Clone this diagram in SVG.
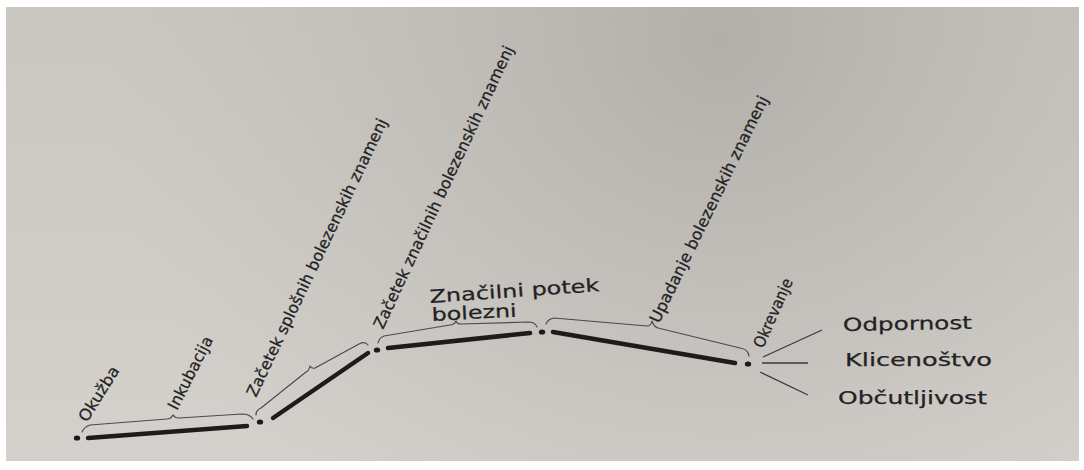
<svg xmlns="http://www.w3.org/2000/svg" width="1084" height="470" viewBox="0 0 1084 470">
<defs>
<linearGradient id="bg" x1="0" y1="0" x2="0" y2="1">
<stop offset="0" stop-color="#cac6c2"/>
<stop offset="1" stop-color="#d4d1cd"/>
</linearGradient>
<radialGradient id="shade" cx="720" cy="40" r="620" gradientUnits="userSpaceOnUse">
<stop offset="0" stop-color="#aeaaa6" stop-opacity="0.85"/>
<stop offset="0.6" stop-color="#b8b4b0" stop-opacity="0.35"/>
<stop offset="1" stop-color="#c0bcb8" stop-opacity="0"/>
</radialGradient>
</defs>
<style>
.t{font-family:"DejaVu Sans","Liberation Sans",sans-serif;font-size:16px;fill:#222;stroke:#222;stroke-width:0.25}
.h{font-size:18px}
.bar{stroke:#1c1c1c;stroke-width:4.5;stroke-linecap:round;fill:none}
.br{stroke:#4a4a4a;stroke-width:1.2;fill:none;stroke-linejoin:round;stroke-linecap:round}
.dot{fill:#1a1a1a}
.ray{stroke:#3a3a3a;stroke-width:1.3}
</style>
<rect width="1084" height="470" fill="#ffffff"/>
<rect x="6" y="7" width="1073" height="454" fill="url(#bg)"/>
<rect x="6" y="7" width="1073" height="454" fill="url(#shade)"/>

<g id="connectors">
<line class="bar" x1="88" y1="438" x2="247" y2="426"/>
<line class="bar" x1="273" y1="418" x2="368" y2="353"/>
<line class="bar" x1="388" y1="348" x2="530" y2="333"/>
<line class="bar" x1="553" y1="332" x2="735" y2="363"/>
<path class="br" d="M82,432 Q84,427 90,425 L167,419 Q171,419 173,415 Q175,418 179,418 L242,414 Q250,414 253,419"/>
<path class="br" d="M256,415 Q256,410 261,408 L306,372 Q309,371 310,366 Q312,369 315,368 L359,344 Q365,341 368,345"/>
<path class="br" d="M378,343 Q379,338 384,336 L450,325 Q454,325 456,321 Q457,324 461,324 L528,322 Q535,322 537,327"/>
<path class="br" d="M546,324 Q548,319 554,318 L647,326 Q651,326 652,321 Q654,327 658,328 L740,348 Q748,349 749,356"/>
<line class="ray" x1="763" y1="357" x2="822" y2="330"/>
<line class="ray" x1="762" y1="363" x2="808" y2="363" stroke="#8a8a8a"/>
<line class="ray" x1="760" y1="372" x2="808" y2="395"/>
</g>

<g id="dots">
<ellipse class="dot" cx="77" cy="438" rx="3.2" ry="2.6"/>
<ellipse class="dot" cx="260" cy="422" rx="3.2" ry="2.6"/>
<ellipse class="dot" cx="377" cy="350" rx="3.2" ry="2.6"/>
<ellipse class="dot" cx="542" cy="332" rx="3.2" ry="2.6"/>
<ellipse class="dot" cx="748" cy="364" rx="3.2" ry="2.6"/>
</g>

<g id="okuzba"><text class="t" transform="translate(87,423) rotate(-58)" textLength="62" lengthAdjust="spacingAndGlyphs">Okužba</text></g>
<g id="inkubacija"><text class="t" transform="translate(177,411) rotate(-63)" textLength="80" lengthAdjust="spacingAndGlyphs">Inkubacija</text></g>
<g id="zacetek-splosnih"><text class="t" transform="translate(256,398) rotate(-64.5)" textLength="306" lengthAdjust="spacingAndGlyphs">Začetek splošnih bolezenskih znamenj</text></g>
<g id="zacetek-znacilnih"><text class="t" transform="translate(383,330) rotate(-65)" textLength="310" lengthAdjust="spacingAndGlyphs">Začetek značilnih bolezenskih znamenj</text></g>
<g id="znacilni-potek">
<text class="t h" transform="translate(430,303) rotate(-4)" textLength="170" lengthAdjust="spacingAndGlyphs">Značilni potek</text>
<text class="t h" transform="translate(432,321) rotate(-3)" textLength="85" lengthAdjust="spacingAndGlyphs">bolezni</text>
</g>
<g id="upadanje"><text class="t" transform="translate(659,324) rotate(-64)" textLength="250" lengthAdjust="spacingAndGlyphs">Upadanje bolezenskih znamenj</text></g>
<g id="okrevanje"><text class="t" transform="translate(763,349) rotate(-66)" textLength="74" lengthAdjust="spacingAndGlyphs">Okrevanje</text></g>
<g id="odpornost"><text class="t h" transform="translate(843,331) rotate(-1)" textLength="129" lengthAdjust="spacingAndGlyphs">Odpornost</text></g>
<g id="klicenostvo"><text class="t h" x="845" y="366" textLength="147" lengthAdjust="spacingAndGlyphs">Klicenoštvo</text></g>
<g id="obcutljivost"><text class="t h" x="838" y="404" textLength="149" lengthAdjust="spacingAndGlyphs">Občutljivost</text></g>
</svg>
